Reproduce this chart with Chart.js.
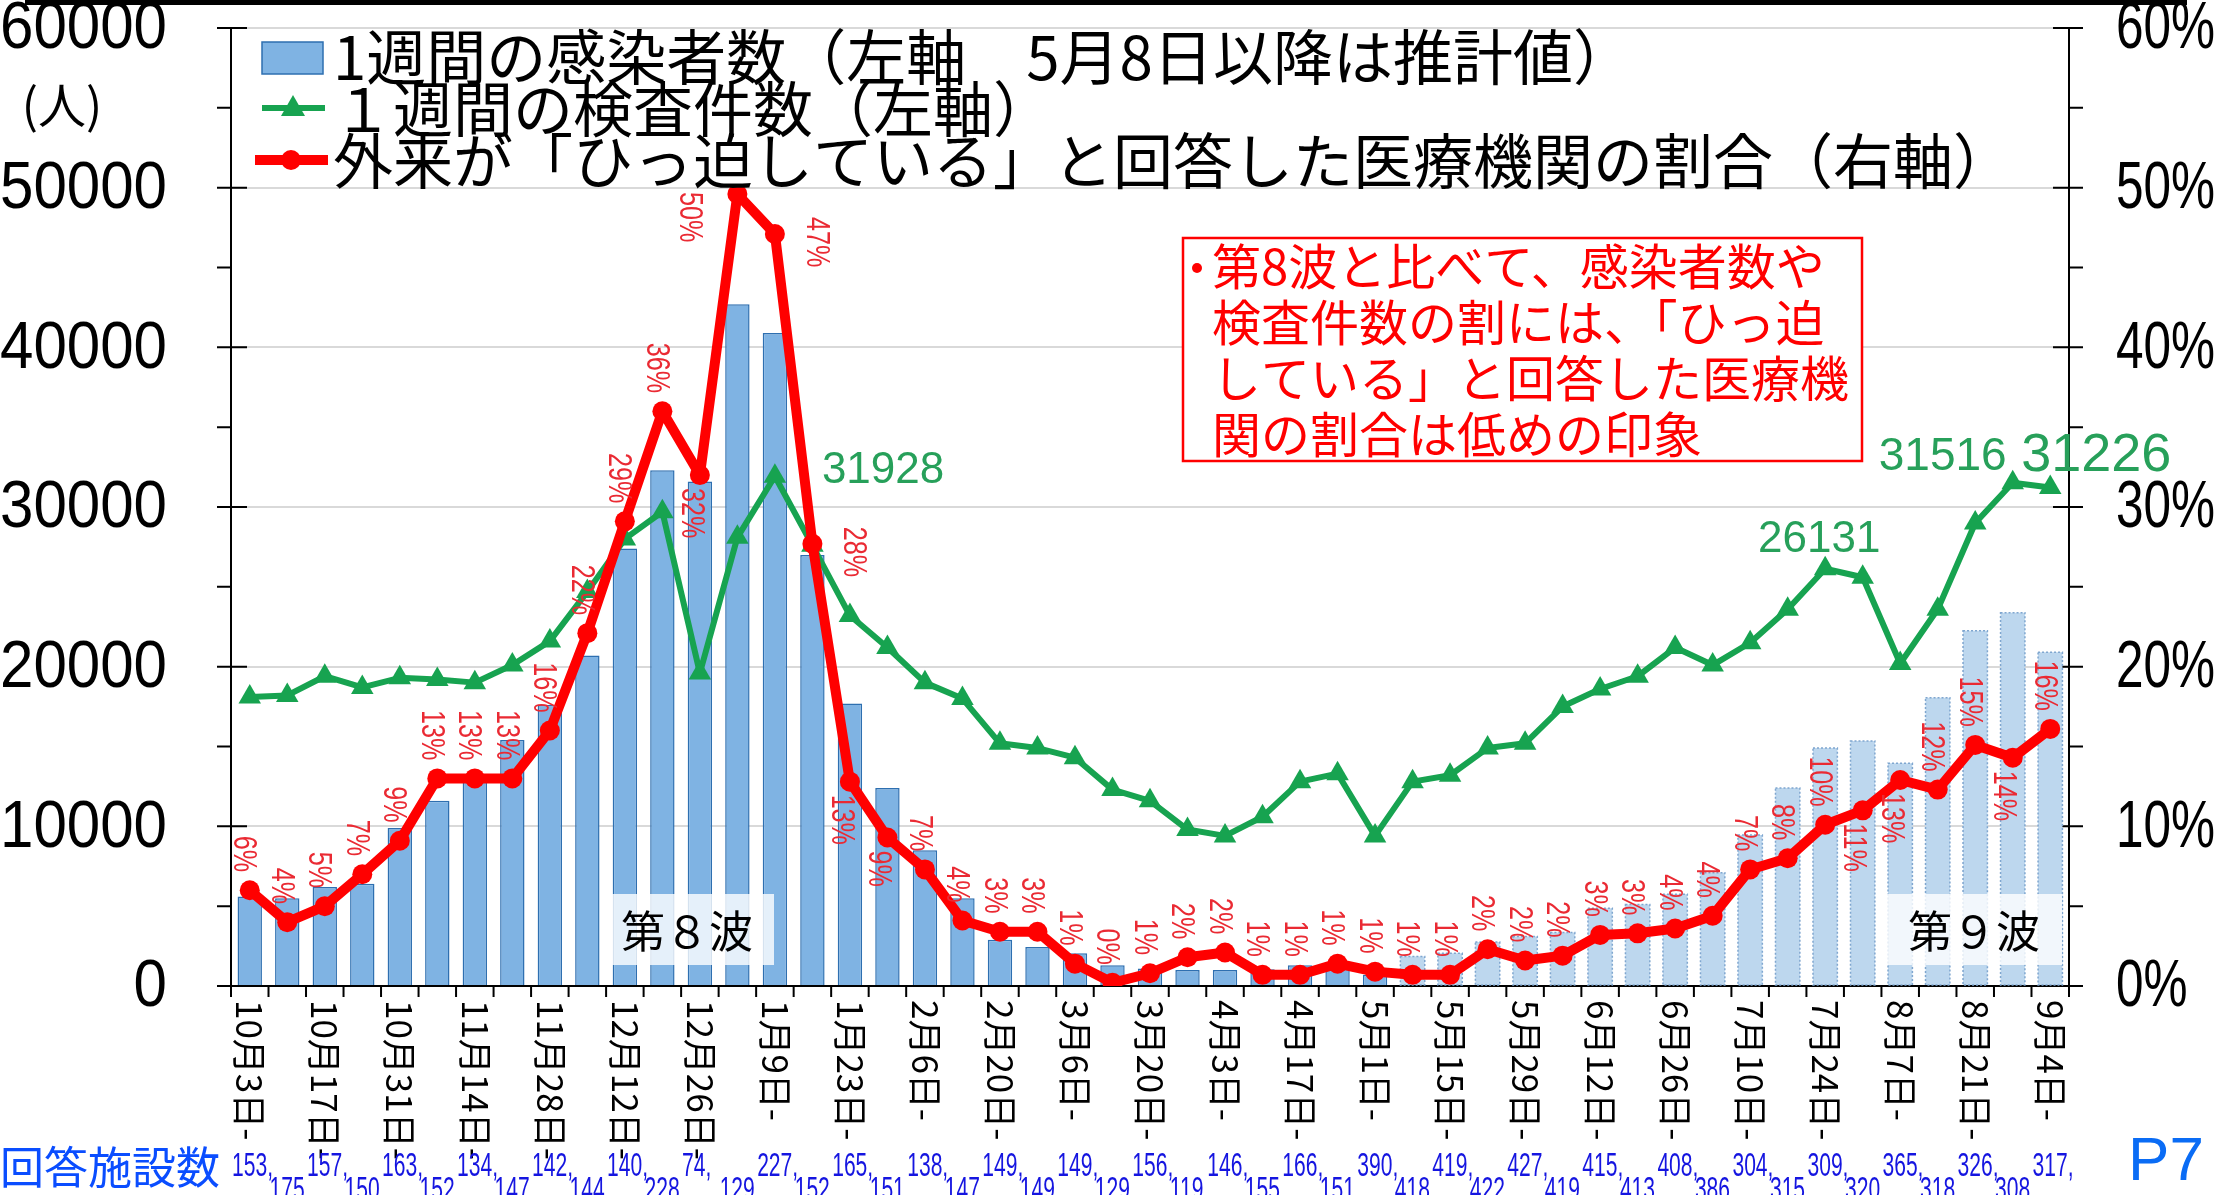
<!DOCTYPE html>
<html>
<head>
<meta charset="utf-8">
<script src="https://cdn.jsdelivr.net/npm/chart.js@4.4.0/dist/chart.umd.min.js"></script>
<style>
  html, body { margin: 0; padding: 0; background: #fff; }
  #wrap { position: relative; width: 2219px; height: 1195px; }
</style>
</head>
<body>
<div id="wrap"><canvas id="chart"></canvas></div>
<script>
// weekly data, 10/3 - 9/4
const weeks = ['10月3日', '10月10日', '10月17日', '10月24日', '10月31日', '11月7日', '11月14日', '11月21日',
  '11月28日', '12月5日', '12月12日', '12月19日', '12月26日', '1月2日', '1月9日', '1月16日', '1月23日',
  '1月30日', '2月6日', '2月13日', '2月20日', '2月27日', '3月6日', '3月13日', '3月20日', '3月27日',
  '4月3日', '4月10日', '4月17日', '4月24日', '5月1日', '5月8日', '5月15日', '5月22日', '5月29日',
  '6月5日', '6月12日', '6月19日', '6月26日', '7月3日', '7月10日', '7月17日', '7月24日', '7月31日',
  '8月7日', '8月14日', '8月21日', '8月28日', '9月4日'];

// 1週間の感染者数 (from 5/8 estimated)
const cases = [5600, 5500, 6200, 6400, 9900, 11600, 13000, 15400, 17600, 20700, 27400, 32300, 31600,
  42700, 40900, 27000, 17700, 12400, 8500, 5500, 2900, 2450, 2050, 1300, 1100, 1000, 1000, 1050, 1300,
  1100, 700, 1850, 2050, 2750, 3100, 3350, 4870, 5100, 5750, 7100, 9450, 12400, 14900, 15350, 13950,
  18050, 22250, 23380, 20900];

// 1週間の検査件数
const tests = [18100, 18200, 19400, 18700, 19300, 19200, 19000, 20100, 21600, 24700, 28000, 29700,
  19600, 28100, 31928, 27600, 23200, 21200, 19000, 18000, 15200, 14900, 14300, 12300, 11600, 9800,
  9400, 10600, 12800, 13300, 9400, 12800, 13200, 14900, 15200, 17500, 18600, 19400, 21200, 20100,
  21500, 23600, 26131, 25600, 20200, 23600, 29000, 31516, 31226];

// 外来がひっ迫していると回答した割合 (%)
const ratio = [6.0, 4.0, 5.0, 7.0, 9.1, 13.0, 13.0, 13.0, 16.0, 22.1, 29.1, 36.0, 32.0, 49.6, 47.1,
  27.7, 12.8, 9.3, 7.3, 4.1, 3.4, 3.4, 1.4, 0.2, 0.8, 1.8, 2.1, 0.7, 0.7, 1.4, 0.9, 0.7, 0.7, 2.3,
  1.6, 1.9, 3.2, 3.3, 3.6, 4.4, 7.3, 8.0, 10.1, 11.0, 12.9, 12.3, 15.1, 14.3, 16.1];

// 回答施設数
const facilities = [153, 175, 157, 150, 163, 152, 134, 147, 142, 144, 140, 228, 74, 129, 227, 152,
  165, 151, 138, 147, 149, 149, 149, 129, 156, 119, 146, 155, 166, 151, 390, 418, 419, 422, 427, 419,
  415, 413, 408, 386, 304, 315, 309, 320, 365, 318, 326, 308, 317];

const leftTicks = [0, 10000, 20000, 30000, 40000, 50000, 60000];
const rightTicks = [0, 10, 20, 30, 40, 50, 60];
const estimateFrom = 31; // 5月8日以降は推計値

const actualCases = cases.map((v, i) => i < estimateFrom ? v : null);
const estCases = cases.map((v, i) => i >= estimateFrom ? v : null);

// where the % labels go (default above the point)
const redPlace = { 12: 'below', 13: 'left', 14: 'right', 15: 'right', 16: 'below', 17: 'below',
  43: 'below', 44: 'below', 47: 'below' };
const greenLabelIdx = [14, 42, 47, 48];

const SANS = '"Liberation Sans", Arial, sans-serif';
const JP = '"Noto Sans CJK JP", "Noto Sans CJK SC", sans-serif';
const RED = '#ff0000';
const GREEN = '#17a350';

// text rotated 90deg clockwise, squeezed along the reading direction
function vText(ctx, text, x, y, align, sq) {
  ctx.save();
  ctx.translate(x, y);
  ctx.rotate(Math.PI / 2);
  ctx.scale(sq || 1, 1);
  ctx.textAlign = align;
  ctx.textBaseline = 'middle';
  ctx.fillText(text, 0, 0);
  ctx.restore();
}

function narrowText(ctx, text, x, y, sq) {
  ctx.save();
  ctx.translate(x, y);
  ctx.scale(sq, 1);
  ctx.fillText(text, 0, 0);
  ctx.restore();
}

const decor = {
  id: 'decor',
  beforeDatasetsDraw(chart) {
    const { ctx, chartArea: a, scales: { x, y, y2 } } = chart;
    ctx.save();
    ctx.strokeStyle = '#000';
    ctx.lineWidth = 2;
    ctx.beginPath();
    ctx.moveTo(a.left, a.top); ctx.lineTo(a.left, a.bottom);
    ctx.moveTo(a.right, a.top); ctx.lineTo(a.right, a.bottom);
    ctx.moveTo(a.left, a.bottom); ctx.lineTo(a.right, a.bottom);
    // y ticks, major ones cross the axis
    for (let v = 0; v <= 60000; v += 5000) {
      const py = y.getPixelForValue(v);
      const major = v % 10000 === 0;
      ctx.moveTo(a.left - 14, py); ctx.lineTo(major ? a.left + 16 : a.left, py);
    }
    for (let v = 0; v <= 60; v += 5) {
      const py = y2.getPixelForValue(v);
      const major = v % 10 === 0;
      ctx.moveTo(major ? a.right - 16 : a.right, py); ctx.lineTo(a.right + 14, py);
    }
    // x ticks at week boundaries
    const step = x.getPixelForValue(1) - x.getPixelForValue(0);
    for (let i = 0; i <= weeks.length; i++) {
      const px = x.getPixelForValue(0) - step / 2 + i * step;
      ctx.moveTo(px, a.bottom); ctx.lineTo(px, a.bottom + 11);
    }
    ctx.stroke();
    ctx.restore();
  },
  afterDatasetDraw(chart, args) {
    if (args.index !== 3) return;
    const ctx = chart.ctx;
    ctx.save();
    ctx.strokeStyle = '#7fa6cf';
    ctx.lineWidth = 1.5;
    ctx.setLineDash([2, 2]);
    args.meta.data.forEach((el, i) => {
      if (estCases[i] == null) return;
      const p = el.getProps(['x', 'y', 'base', 'width'], true);
      ctx.strokeRect(p.x - p.width / 2, p.y, p.width, p.base - p.y);
    });
    ctx.restore();
  },
  afterDatasetsDraw(chart) {
    const { ctx } = chart;
    ctx.save();

    // wave boxes
    [['第８波', 600, 894, 174, 71], ['第９波', 1886, 894, 176, 71]].forEach(([t, bx, by, bw, bh]) => {
      ctx.fillStyle = 'rgba(255,255,255,0.8)';
      ctx.fillRect(bx, by, bw, bh);
      ctx.fillStyle = '#000';
      ctx.font = '44px ' + JP;
      ctx.textAlign = 'center';
      ctx.textBaseline = 'middle';
      ctx.fillText(t, bx + bw / 2, by + bh / 2 + 2);
    });

    // % labels
    const rm = chart.getDatasetMeta(0);
    ctx.fillStyle = '#ea2a33';
    ctx.font = '34px ' + SANS;
    ratio.forEach((v, i) => {
      const pt = rm.data[i];
      const t = Math.round(v) + '%';
      const place = redPlace[i] || 'above';
      if (place === 'above') vText(ctx, t, pt.x - 6, pt.y - 18, 'right', 0.74);
      else if (place === 'below') vText(ctx, t, pt.x - 9, pt.y + 13, 'left', 0.74);
      else if (place === 'left') vText(ctx, t, pt.x - 48, pt.y - 2, 'left', 0.74);
      else vText(ctx, t, pt.x + 41, pt.y - 17, 'left', 0.74);
    });

    // test count labels
    const gm = chart.getDatasetMeta(1);
    ctx.fillStyle = '#27a05a';
    ctx.textBaseline = 'middle';
    greenLabelIdx.forEach(i => {
      const pt = gm.data[i];
      const t = String(tests[i]);
      if (i === 14) {
        ctx.font = '44px ' + SANS; ctx.textAlign = 'left';
        ctx.fillText(t, pt.x + 47, pt.y - 5);
      } else if (i === 42) {
        ctx.font = '44px ' + SANS; ctx.textAlign = 'center';
        ctx.fillText(t, pt.x - 6, pt.y - 29);
      } else if (i === 47) {
        ctx.font = '46px ' + SANS; ctx.textAlign = 'center';
        ctx.fillText(t, pt.x - 70, pt.y - 25);
      } else {
        ctx.font = '54px ' + SANS; ctx.textAlign = 'center';
        ctx.fillText(t, pt.x + 46, pt.y - 31);
      }
    });

    // legend
    ctx.fillStyle = '#7fb3e3';
    ctx.fillRect(262, 42, 61, 32);
    ctx.strokeStyle = '#2e6fb0';
    ctx.lineWidth = 1.5;
    ctx.strokeRect(262, 42, 61, 32);
    ctx.strokeStyle = GREEN; ctx.lineWidth = 6;
    ctx.beginPath(); ctx.moveTo(262, 108); ctx.lineTo(325, 108); ctx.stroke();
    ctx.fillStyle = GREEN;
    ctx.beginPath(); ctx.moveTo(293, 95); ctx.lineTo(305, 116); ctx.lineTo(281, 116); ctx.closePath(); ctx.fill();
    ctx.strokeStyle = RED; ctx.lineWidth = 10;
    ctx.beginPath(); ctx.moveTo(255, 160); ctx.lineTo(328, 160); ctx.stroke();
    ctx.fillStyle = RED;
    ctx.beginPath(); ctx.arc(291, 160, 10, 0, Math.PI * 2); ctx.fill();
    ctx.fillStyle = '#000';
    ctx.font = '60px ' + JP;
    ctx.textAlign = 'left';
    ctx.textBaseline = 'middle';
    ctx.fillText('1週間の感染者数（左軸　5月8日以降は推計値）', 333, 57);
    ctx.fillText('１週間の検査件数（左軸）', 333, 109);
    ctx.fillText('外来が「ひっ迫している」と回答した医療機関の割合（右軸）', 333, 161);

    // comment box
    ctx.fillStyle = '#fff';
    ctx.fillRect(1183, 238, 679, 223);
    ctx.strokeStyle = RED; ctx.lineWidth = 2.5;
    ctx.strokeRect(1183, 238, 679, 223);
    ctx.fillStyle = RED;
    ctx.beginPath(); ctx.arc(1197, 268, 5, 0, Math.PI * 2); ctx.fill();
    ctx.font = '49px ' + JP;
    ['第8波と比べて、感染者数や', '検査件数の割には、「ひっ迫', 'している」と回答した医療機', '関の割合は低めの印象']
      .forEach((t, k) => ctx.fillText(t, 1212, 266 + k * 56));
    ctx.restore();
  },
  afterDraw(chart) {
    const { ctx, chartArea: a, scales: { x, y, y2 } } = chart;
    ctx.save();
    // top rule
    ctx.fillStyle = '#000';
    ctx.fillRect(25, 0, 2162, 5);

    // y tick labels
    ctx.font = '66px ' + SANS;
    ctx.textBaseline = 'middle';
    ctx.textAlign = 'right';
    leftTicks.forEach(v => narrowText(ctx, String(v), a.left - 64, y.getPixelForValue(v) + 2, 0.91));
    ctx.textAlign = 'left';
    rightTicks.forEach(v => narrowText(ctx, v + '%', a.right + 47, y2.getPixelForValue(v) + 2, 0.75));
    ctx.font = '48px ' + JP;
    ctx.textAlign = 'center';
    ctx.fillText('(人)', 62, 105);

    // date labels, every other week
    ctx.font = '35px ' + JP;
    weeks.forEach((w, i) => {
      if (i % 2) return;
      vText(ctx, w + '-', x.getPixelForValue(i), a.bottom + 14, 'left');
    });

    // response counts
    const step = x.getPixelForValue(1) - x.getPixelForValue(0);
    ctx.fillStyle = '#1515e0';
    ctx.font = '34px ' + SANS;
    ctx.textAlign = 'left';
    facilities.forEach((n, i) => {
      const left = x.getPixelForValue(i) - step / 2 + 1;
      narrowText(ctx, n + ',', left, i % 2 ? 1191 : 1167, 0.62);
    });
    ctx.fillStyle = '#0a4dff';
    ctx.font = '44px ' + JP;
    ctx.fillText('回答施設数', 0, 1167);
    ctx.fillStyle = '#0a6cf5';
    ctx.font = '62px ' + SANS;
    ctx.textAlign = 'center';
    ctx.fillText('P7', 2166, 1163);
    ctx.restore();
  }
};

new Chart(document.getElementById('chart'), {
  type: 'bar',
  data: {
    labels: weeks,
    datasets: [
      {
        type: 'line', label: '外来が「ひっ迫している」と回答した医療機関の割合（右軸）', data: ratio,
        yAxisID: 'y2', borderColor: RED, borderWidth: 10, borderJoinStyle: 'round',
        pointRadius: 10, pointBackgroundColor: RED, pointBorderWidth: 0, order: 1
      },
      {
        type: 'line', label: '１週間の検査件数（左軸）', data: tests, yAxisID: 'y',
        borderColor: GREEN, borderWidth: 6, borderJoinStyle: 'round',
        pointStyle: 'triangle', pointRadius: 13, pointBackgroundColor: GREEN, pointBorderWidth: 0, order: 2
      },
      {
        label: '1週間の感染者数', data: actualCases, yAxisID: 'y', grouped: false,
        backgroundColor: '#7fb3e3', borderColor: '#2e6fb0', borderWidth: 1.5,
        barPercentage: 0.65, categoryPercentage: 1, order: 3
      },
      {
        label: '1週間の感染者数（推計値）', data: estCases, yAxisID: 'y', grouped: false,
        backgroundColor: '#bdd7ee', borderWidth: 0,
        barPercentage: 0.65, categoryPercentage: 1, order: 3
      }
    ]
  },
  options: {
    responsive: true,
    maintainAspectRatio: false,
    animation: false,
    layout: { padding: { top: 28, left: 0, right: 0, bottom: 0 } },
    plugins: { legend: { display: false }, tooltip: { enabled: false } },
    scales: {
      x: {
        grid: { display: false },
        border: { display: false },
        ticks: { display: false },
        afterFit: s => { s.height = 209; }
      },
      y: {
        position: 'left', min: 0, max: 60000,
        ticks: { display: false, stepSize: 10000 },
        grid: { color: c => c.tick.value > 0 ? '#d9d9d9' : 'rgba(0,0,0,0)', lineWidth: 2, drawTicks: false },
        border: { display: false },
        afterFit: s => { s.width = 231; }
      },
      y2: {
        position: 'right', min: 0, max: 60,
        ticks: { display: false, stepSize: 10 },
        grid: { display: false },
        border: { display: false },
        afterFit: s => { s.width = 150; }
      }
    }
  },
  plugins: [decor]
});
</script>
</body>
</html>
